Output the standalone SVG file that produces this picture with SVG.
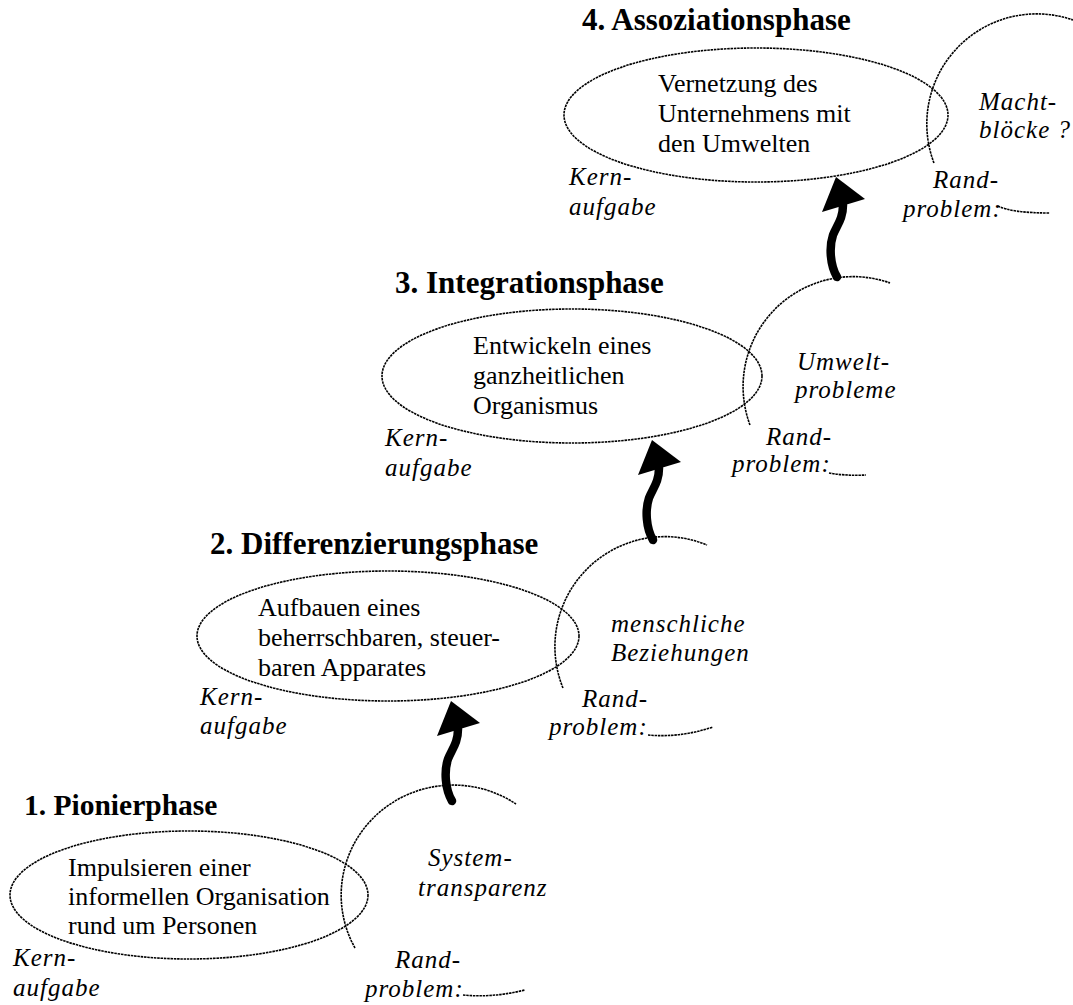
<svg xmlns="http://www.w3.org/2000/svg" xmlns:xlink="http://www.w3.org/1999/xlink" width="1073" height="1005" viewBox="0 0 1073 1005">
<style>
.dot{fill:none;stroke:#000;stroke-width:1.6;stroke-dasharray:2.5 0.8}
.title{font-family:"Liberation Serif","Times New Roman",serif;font-weight:bold;font-size:31px;fill:#000}
.body{font-family:"Liberation Serif","Times New Roman",serif;font-size:26px;fill:#000}
.it{font-family:"Liberation Serif","Times New Roman",serif;font-style:italic;font-size:25px;letter-spacing:1px;fill:#000}
.stem{fill:none;stroke:#000;stroke-width:8.5;stroke-linecap:round;stroke-linejoin:round}
</style>
<defs>
<g id="arrow">
<path class="stem" d="M0,0 C-7,-12 -8,-30 -4,-42 C0,-52 6,-58 6,-72"/>
<polygon points="-1,-100 -15,-65 28,-78" fill="#000"/>
</g>
</defs>
<rect width="1073" height="1005" fill="#fff"/>

<g id="phase1">
<text class="title" x="24" y="815" style="font-size:29.5px">1. Pionierphase</text>
<ellipse class="dot" cx="189" cy="895" rx="179" ry="64"/>
<text class="body" x="68" y="876">Impulsieren einer</text>
<text class="body" x="68" y="905">informellen Organisation</text>
<text class="body" x="68" y="934">rund um Personen</text>
<text class="it" x="13" y="966">Kern-</text>
<text class="it" x="13" y="996">aufgabe</text>
<path class="dot" d="M355,948 A112,110 0 0 1 516,804"/>
<text class="it" x="428" y="866">System-</text>
<text class="it" x="418" y="896">transparenz</text>
<text class="it" x="395" y="968">Rand-</text>
<text class="it" x="365" y="997">problem:</text>
<path class="dot" d="M463,995 Q492,998 525,990"/>
</g>

<g id="phase2">
<text class="title" x="210" y="554">2. Differenzierungsphase</text>
<ellipse class="dot" cx="388" cy="636" rx="191" ry="65"/>
<text class="body" x="258" y="616">Aufbauen eines</text>
<text class="body" x="258" y="646">beherrschbaren, steuer-</text>
<text class="body" x="258" y="676">baren Apparates</text>
<text class="it" x="200" y="705">Kern-</text>
<text class="it" x="200" y="734">aufgabe</text>
<path class="dot" d="M563,688 A110,110 0 0 1 707,545"/>
<text class="it" x="611" y="632">menschliche</text>
<text class="it" x="611" y="661">Beziehungen</text>
<text class="it" x="582" y="707">Rand-</text>
<text class="it" x="549" y="735">problem:</text>
<path class="dot" d="M648,735 Q680,738 713,727"/>
</g>

<g id="phase3">
<text class="title" x="395" y="293">3. Integrationsphase</text>
<ellipse class="dot" cx="572" cy="376" rx="190" ry="67"/>
<text class="body" x="473" y="354">Entwickeln eines</text>
<text class="body" x="473" y="384">ganzheitlichen</text>
<text class="body" x="473" y="414">Organismus</text>
<text class="it" x="385" y="446">Kern-</text>
<text class="it" x="385" y="476">aufgabe</text>
<path class="dot" d="M750,425 A110,110 0 0 1 890,283"/>
<text class="it" x="797" y="370">Umwelt-</text>
<text class="it" x="795" y="398">probleme</text>
<text class="it" x="766" y="445">Rand-</text>
<text class="it" x="732" y="472">problem:</text>
<path class="dot" d="M829,473 Q846,476 866,475"/>
</g>

<g id="phase4">
<text class="title" x="582" y="30">4. Assoziationsphase</text>
<ellipse class="dot" cx="756" cy="115" rx="192" ry="67"/>
<text class="body" x="658" y="92">Vernetzung des</text>
<text class="body" x="658" y="122">Unternehmens mit</text>
<text class="body" x="658" y="152">den Umwelten</text>
<text class="it" x="569" y="185">Kern-</text>
<text class="it" x="569" y="215">aufgabe</text>
<path class="dot" d="M934,163 A110,110 0 0 1 1073,20"/>
<text class="it" x="979" y="110">Macht-</text>
<text class="it" x="979" y="138">blöcke ?</text>
<text class="it" x="933" y="188">Rand-</text>
<text class="it" x="903" y="217">problem:</text>
<path class="dot" d="M998,206 Q1012,213 1050,213"/>
</g>

<g id="connectors">
<use xlink:href="#arrow" x="452" y="801"/>
<use xlink:href="#arrow" x="653" y="540"/>
<use xlink:href="#arrow" x="837" y="277"/>
</g>
</svg>
